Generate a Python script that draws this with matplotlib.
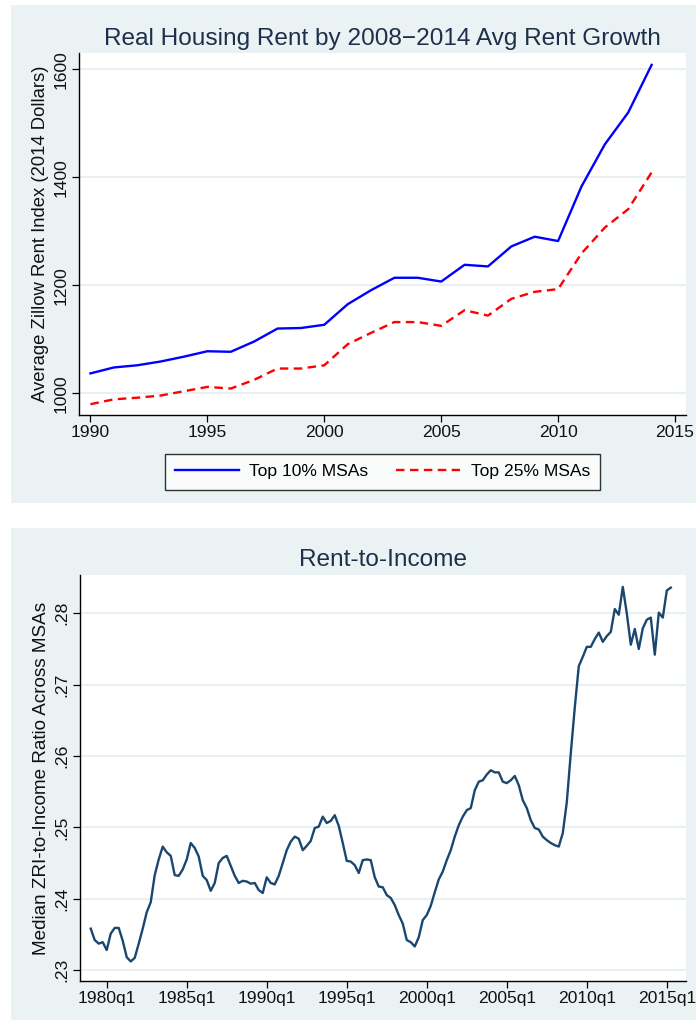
import numpy as np
import matplotlib.pyplot as plt
from matplotlib.patches import Rectangle

plt.rcParams['font.family'] = ['Liberation Sans', 'DejaVu Sans']

# Average real rent by year, groups ranked on 2008-2014 rent growth
years = list(range(1990, 2015))
top10 = [1037, 1048, 1052, 1059, 1068, 1078, 1077, 1096, 1120, 1121,
         1127, 1165, 1191, 1214, 1214, 1207, 1238, 1235, 1272, 1290,
         1282, 1383, 1461, 1520, 1608]
top25 = [980, 989, 992, 996, 1004, 1012, 1009, 1025, 1046, 1046,
         1052, 1091, 1112, 1132, 1132, 1125, 1154, 1144, 1175, 1188,
         1193, 1259, 1307, 1341, 1409]

# Quarterly median rent-to-income, 1979q1 .. 2015q2
rti_first_year = 1979
rti = [
    .2358, .2342, .2337, .2339, .2328, .2351, .2359, .2359, .2341, .2318,
    .2312, .2317, .2337, .2358, .2381, .2395, .2433, .2455, .2473, .2465,
    .2460, .2433, .2432, .2441, .2455, .2478, .2471, .2459, .2432, .2426,
    .2411, .2422, .2450, .2457, .2460, .2446, .2432, .2422, .2425, .2424,
    .2421, .2422, .2412, .2408, .2430, .2422, .2420, .2432, .2450, .2468,
    .2480, .2487, .2484, .2468, .2474, .2481, .2499, .2501, .2515, .2506,
    .2509, .2517, .2502, .2478, .2453, .2452, .2447, .2436, .2454, .2455,
    .2454, .2430, .2417, .2416, .2405, .2401, .2391, .2377, .2365, .2342,
    .2339, .2333, .2346, .2370, .2377, .2390, .2409, .2427, .2438, .2454,
    .2468, .2487, .2503, .2515, .2524, .2527, .2552, .2564, .2566, .2574,
    .2580, .2577, .2577, .2564, .2562, .2566, .2572, .2559, .2538, .2527,
    .2510, .2499, .2497, .2487, .2482, .2478, .2475, .2473, .2492, .2535,
    .2604, .2668, .2726, .2739, .2753, .2753, .2764, .2773, .2760, .2768,
    .2774, .2806, .2798, .2837, .2800, .2756, .2778, .2750, .2779, .2791,
    .2794, .2742, .2801, .2794, .2832, .2836,
]
rti_x = rti_first_year + np.arange(len(rti)) / 4.0

top_xticks = [1990, 1995, 2000, 2005, 2010, 2015]
top_yticks = [1000, 1200, 1400, 1600]
bot_xticks = [1980, 1985, 1990, 1995, 2000, 2005, 2010, 2015]
bot_yticks = [.23, .24, .25, .26, .27, .28]

W, H = 696, 1026
panel_bg = '#EAF2F3'
grid_c = '#E4EDF0'
title_c = '#1E2F4B'
tick_fs = 12.6
title_fs = 17.6

fig = plt.figure(figsize=(W / 100, H / 100), dpi=100)
fig.patch.set_facecolor('white')


def px_rect(x0, y0, x1, y1):
    # pixel box (top-left origin) -> figure fraction rect
    return [x0 / W, 1 - y1 / H, (x1 - x0) / W, (y1 - y0) / H]


for box in [(11, 5, 696, 503), (11, 528, 696, 1020)]:
    r = px_rect(*box)
    fig.patches.append(Rectangle((r[0], r[1]), r[2], r[3], transform=fig.transFigure,
                                 facecolor=panel_bg, edgecolor='none', zorder=-5))


def style_axes(ax):
    ax.set_facecolor('white')
    for s in ['top', 'right']:
        ax.spines[s].set_visible(False)
    for s in ['left', 'bottom']:
        ax.spines[s].set_color('black')
        ax.spines[s].set_linewidth(1.0)
    ax.tick_params(direction='out', length=5, width=0.9, colors='black',
                   labelsize=tick_fs, labelcolor='#111111', pad=2.5)
    ax.grid(axis='y', color=grid_c, linewidth=1.2)
    ax.set_axisbelow(True)
    plt.setp(ax.get_yticklabels(), rotation=90, va='center')


# top panel
ax1 = fig.add_axes(px_rect(79, 53, 686, 415))
ax1.plot(years, top10, color='#0000FF', lw=1.7, label='Top 10% MSAs')
ax1.plot(years, top25, color='#FF0000', lw=1.7, ls=(0, (3.6, 2.3)), label='Top 25% MSAs')
ax1.set_xlim(1989.51, 2015.47)
ax1.set_ylim(960, 1630)
ax1.set_xticks(top_xticks)
ax1.set_yticks(top_yticks)
style_axes(ax1)
ax1.set_ylabel('Average Zillow Rent Index (2014 Dollars)', fontsize=13.3, color='#111111', labelpad=3)
ax1.set_title('Real Housing Rent by 2008\u22122014 Avg Rent Growth', fontsize=title_fs,
              color=title_c, pad=6)
leg = ax1.legend(loc='upper center', bbox_to_anchor=(0.5, -0.1077), ncol=2, frameon=True,
                 fancybox=False, edgecolor='black', fontsize=tick_fs, handlelength=3.65,
                 columnspacing=1.6, borderpad=0.58, handletextpad=0.6, borderaxespad=0)
leg.get_frame().set_linewidth(1.0)

# bottom panel
ax2 = fig.add_axes(px_rect(80, 575, 686, 981))
ax2.plot(rti_x, rti, color='#1A476F', lw=1.7)
ax2.set_xlim(1978.33, 2016.2)
ax2.set_ylim(0.22846, 0.28537)
ax2.set_xticks(bot_xticks)
ax2.set_xticklabels([f'{y}q1' for y in bot_xticks])
ax2.set_yticks(bot_yticks)
ax2.set_yticklabels([f'{v:.2f}'.lstrip('0') for v in bot_yticks])
style_axes(ax2)
ax2.set_ylabel('Median ZRI-to-Income Ratio Across MSAs', fontsize=13.6, color='#111111', labelpad=3)
ax2.set_title('Rent-to-Income', fontsize=title_fs, color=title_c, pad=6.5)

fig.savefig('out.png', dpi=100)
